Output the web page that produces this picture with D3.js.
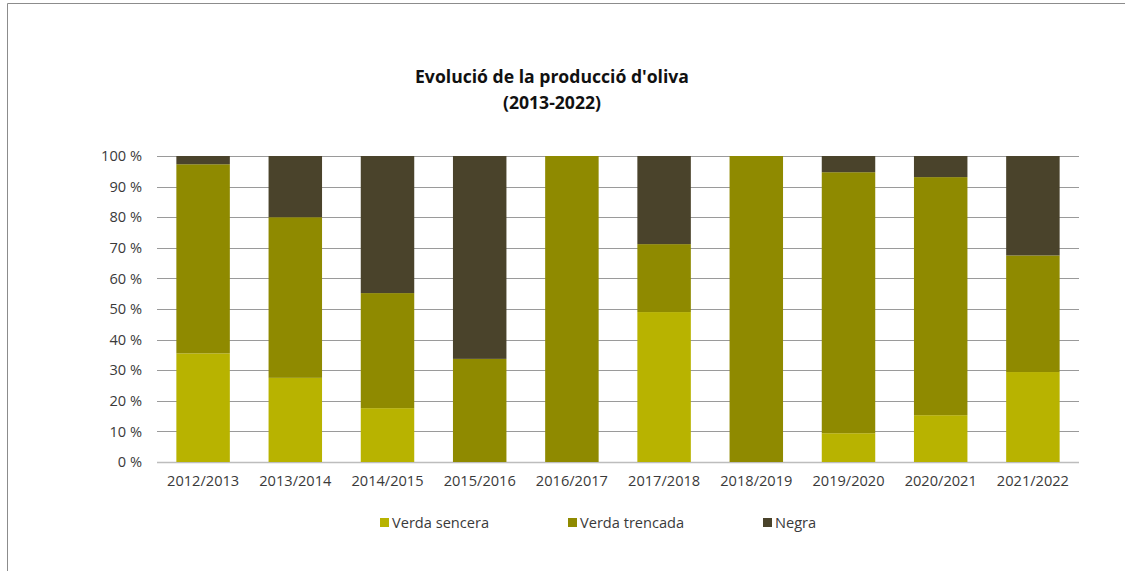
<!DOCTYPE html>
<html>
<head>
<meta charset="utf-8">
<script src="https://cdn.jsdelivr.net/npm/d3@7"></script>
<style>
  body { margin: 0; background: #fff; }
  text { font-family: "Open Sans", "Noto Sans", sans-serif; }
</style>
</head>
<body>
<div id="chart"></div>
<script>
// Data (percent of each season)
let seasons = ["2012/2013", "2013/2014", "2014/2015", "2015/2016", "2016/2017",
               "2017/2018", "2018/2019", "2019/2020", "2020/2021", "2021/2022"];
let verdaSencera  = [35.5, 27.5, 17.6, 0, 0, 49.0, 0, 9.4, 15.3, 29.4];
let verdaTrencada = [61.8, 52.5, 37.6, 33.7, 100, 22.2, 100, 85.3, 77.8, 38.1];
let negra         = [2.7, 20.0, 44.8, 66.3, 0, 28.8, 0, 5.3, 6.9, 32.5];
let seriesNames = ["Verda sencera", "Verda trencada", "Negra"];
let yTicks = [0, 10, 20, 30, 40, 50, 60, 70, 80, 90, 100];

let W = 1125, H = 571;
let margin = {top: 156, right: 46, bottom: 109, left: 157};
let width = W - margin.left - margin.right;
let height = H - margin.top - margin.bottom;
let labelFont = "14.6px";

let svg = d3.select("#chart")
  .append("svg")
    .attr("width", W)
    .attr("height", H);

// outer chart frame (only top and left edges visible)
svg.append("path")
  .attr("d", "M7.5,571 L7.5,3.5 L1125,3.5")
  .attr("fill", "none")
  .attr("stroke", "#8c8c8c")
  .attr("stroke-width", 1);

// title
svg.append("text")
  .attr("x", 552).attr("y", 83)
  .attr("text-anchor", "middle")
  .style("font-size", "17.6px").style("font-weight", "bold").style("fill", "#111")
  .text("Evolució de la producció d'oliva");
svg.append("text")
  .attr("x", 552).attr("y", 109)
  .attr("text-anchor", "middle")
  .style("font-size", "17.6px").style("font-weight", "bold").style("fill", "#111")
  .text("(2013-2022)");

let g = svg.append("g")
  .attr("transform", "translate(" + margin.left + "," + margin.top + ")");

let x = d3.scaleBand()
  .domain(seasons)
  .range([0, width])
  .paddingInner(0.42)
  .paddingOuter(0.21);

let y = d3.scaleLinear()
  .domain([0, 100])
  .range([height, 0]);

// gridlines
g.append("g")
  .selectAll("line")
  .data(yTicks)
  .enter()
  .append("line")
    .attr("x1", 0).attr("x2", width)
    .attr("y1", d => Math.round(y(d)) + 0.5)
    .attr("y2", d => Math.round(y(d)) + 0.5)
    .attr("stroke", d => d === 0 ? "#bdbdbd" : "#9a9a9a")
    .attr("stroke-width", d => d === 0 ? 1.5 : 1);

// stacked bars
let rows = seasons.map((s, i) => ({
  season: s,
  "Verda sencera": verdaSencera[i],
  "Verda trencada": verdaTrencada[i],
  "Negra": negra[i]
}));
let stack = d3.stack().keys(seriesNames)(rows);
let color = d3.scaleOrdinal()
  .domain(seriesNames)
  .range(["#b8b300", "#8f8a00", "#4a432b"]);

g.append("g")
  .selectAll("g")
  .data(stack)
  .enter()
  .append("g")
    .attr("fill", d => color(d.key))
  .selectAll("rect")
  .data(d => d)
  .enter()
  .append("rect")
    .attr("x", d => x(d.data.season))
    .attr("width", x.bandwidth())
    .attr("y", d => y(d[1]))
    .attr("height", d => y(d[0]) - y(d[1]));

// y axis labels
let yAxis = g.append("g")
  .call(d3.axisLeft(y).tickValues(yTicks).tickSize(0).tickPadding(15)
    .tickFormat(d => d + " %"));
yAxis.select(".domain").remove();
yAxis.selectAll("text")
  .style("font-size", labelFont)
  .style("fill", "#3a3a3a")
  .style("font-family", "'Open Sans', 'Noto Sans', sans-serif");

// x axis labels
let xAxis = g.append("g")
  .attr("transform", "translate(0," + height + ")")
  .call(d3.axisBottom(x).tickSize(0).tickPadding(14));
xAxis.select(".domain").remove();
xAxis.selectAll("text")
  .style("font-size", labelFont)
  .style("fill", "#3a3a3a")
  .style("font-family", "'Open Sans', 'Noto Sans', sans-serif");

// legend
let legendX = [380, 568, 763];
let legend = svg.append("g")
  .selectAll("g")
  .data(seriesNames)
  .enter()
  .append("g")
    .attr("transform", (d, i) => "translate(" + legendX[i] + ",518)");
legend.append("rect")
  .attr("width", 9).attr("height", 9)
  .attr("fill", d => color(d));
legend.append("text")
  .attr("x", 12).attr("y", 10)
  .style("font-size", labelFont)
  .style("fill", "#3a3a3a")
  .text(d => d);
</script>
</body>
</html>
